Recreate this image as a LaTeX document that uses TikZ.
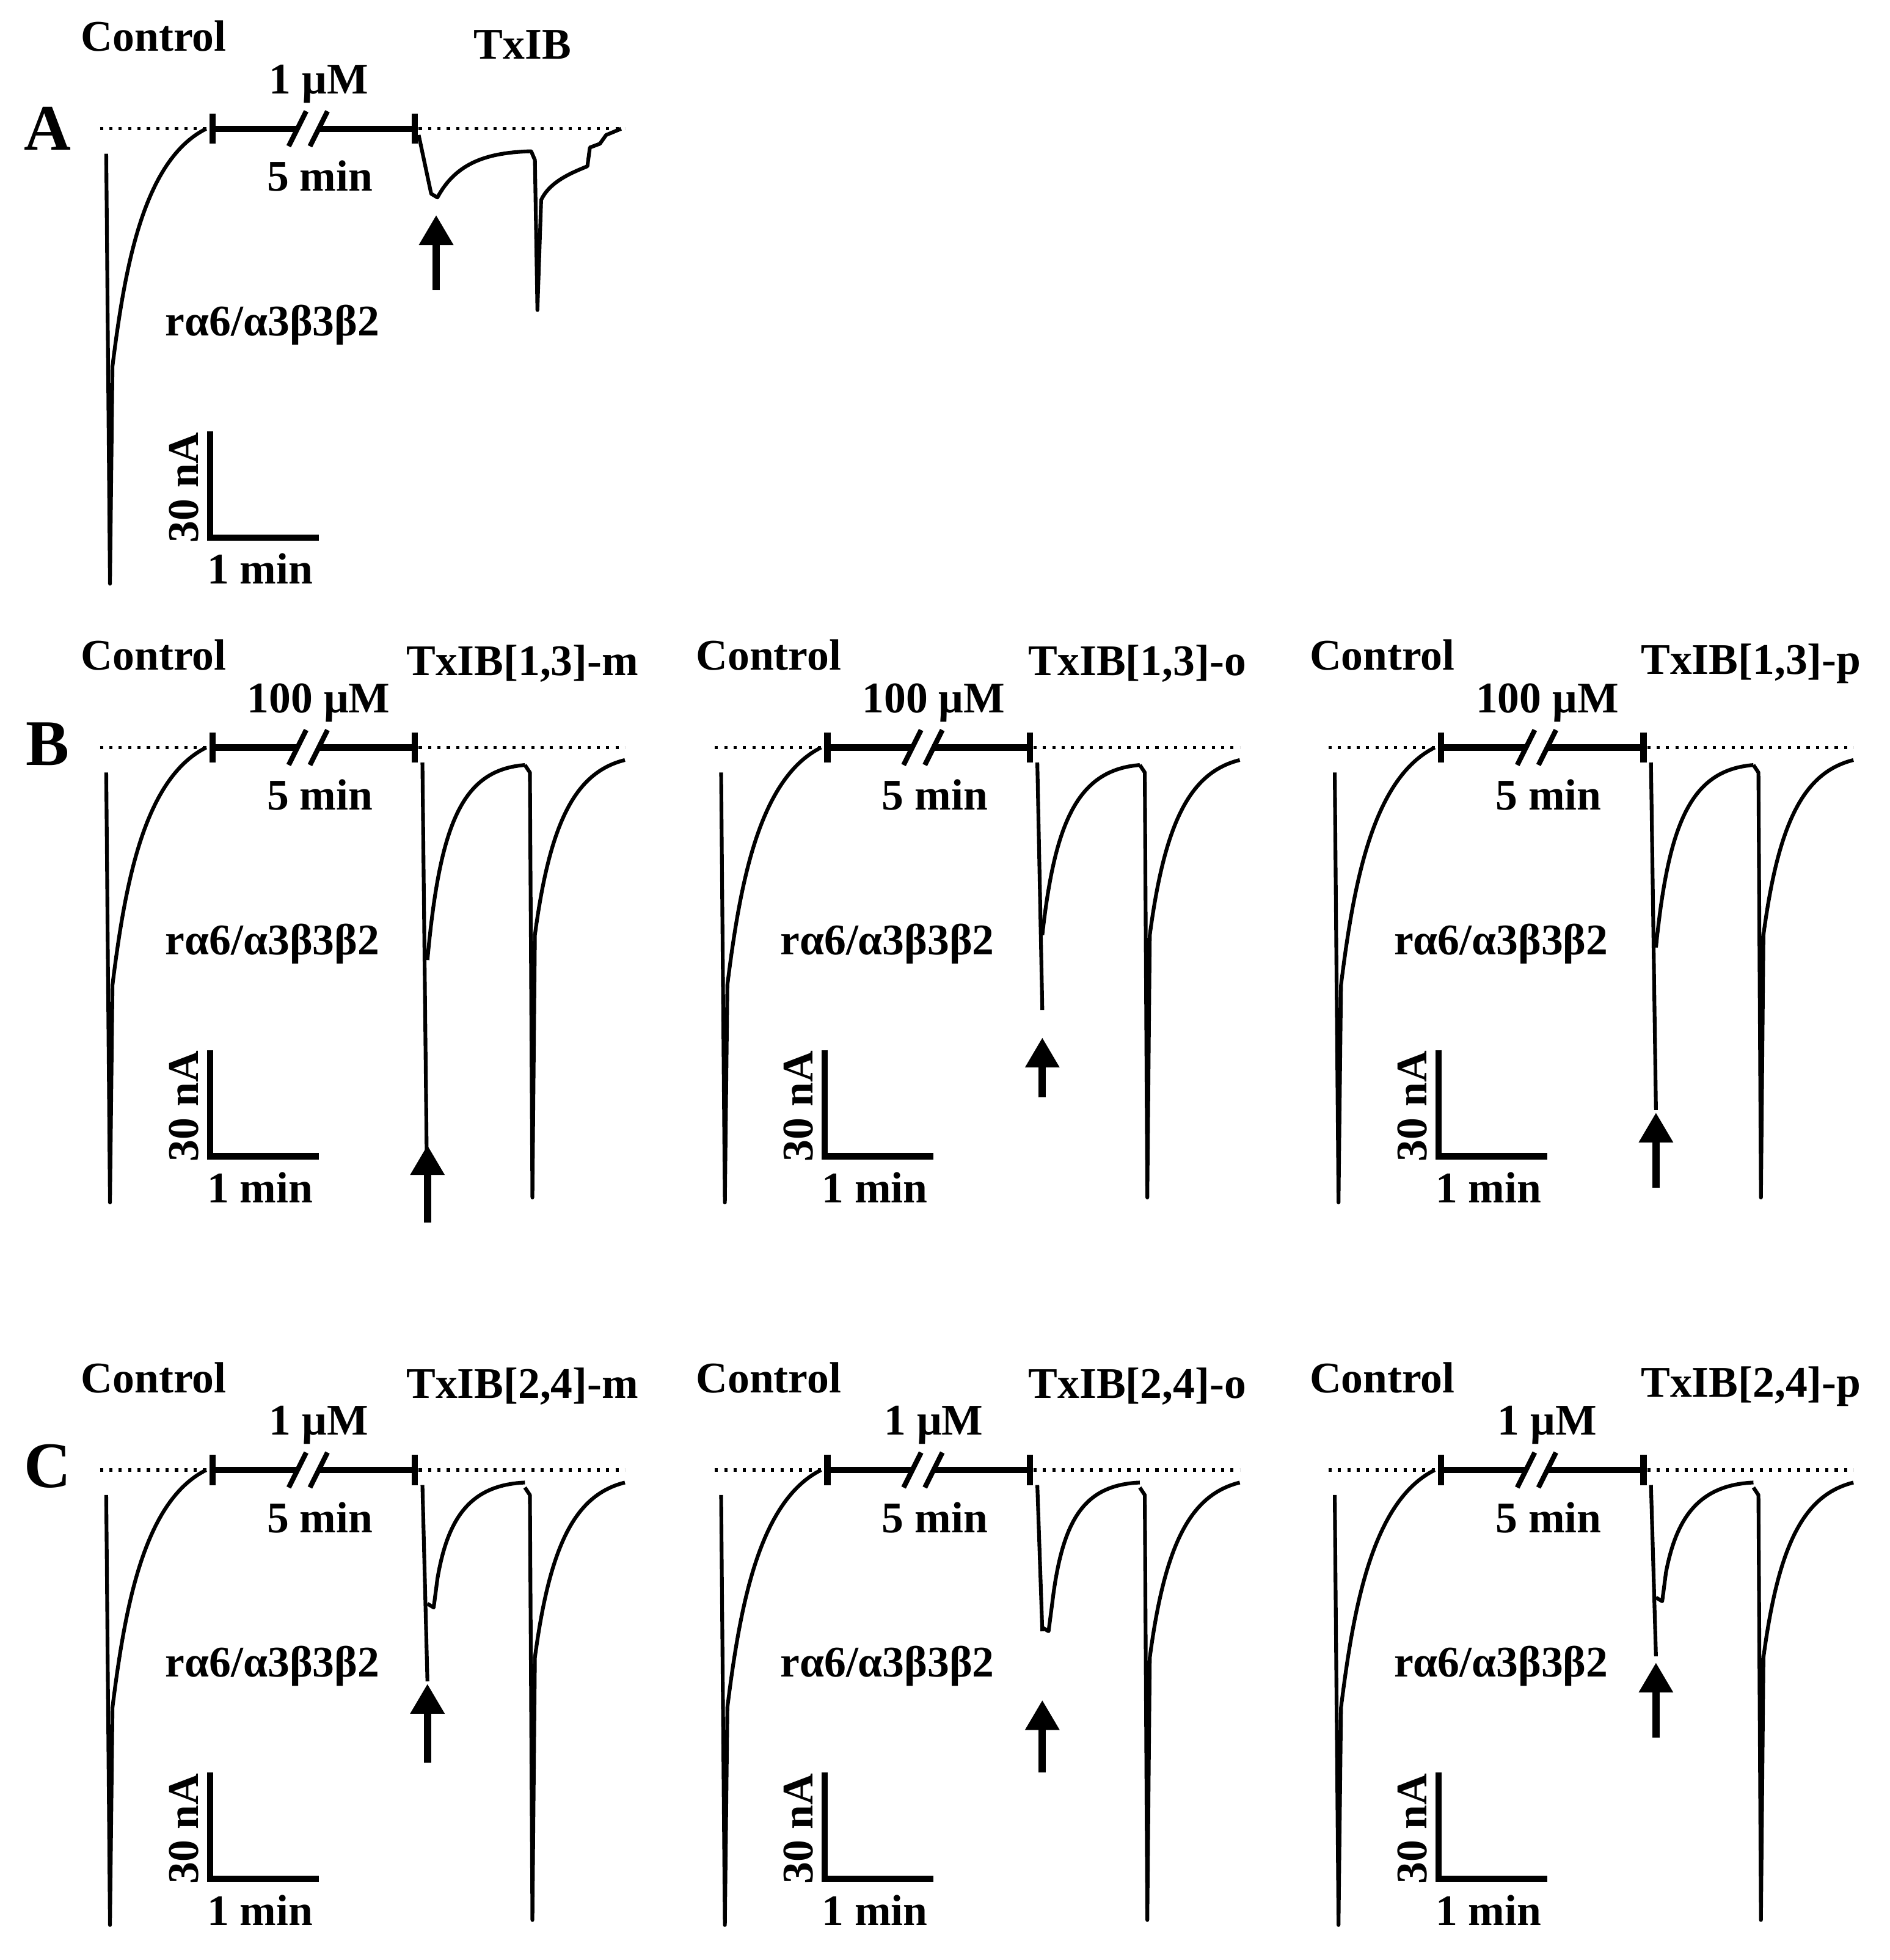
\documentclass[tikz,border=0pt]{standalone}
\usepackage{fontspec}
\setmainfont{Liberation Serif}
\usetikzlibrary{arrows.meta}
\tikzset{every picture/.style={line width=3pt}}
\tikzset{
  lbl/.style={font=\fontsize{35}{40}\selectfont\bfseries, inner sep=0pt},
  letter/.style={font=\fontsize{52}{58}\selectfont\bfseries, inner sep=0pt},
  base/.style={dash pattern=on 2.5pt off 5pt, line width=2.5pt},
  bar/.style={line width=5pt},
  trace/.style={line width=3pt, line join=round},
  uparrow/.style={line width=6pt, -{Triangle[length=24pt,width=26pt]}}
}

\begin{document}
\begin{tikzpicture}[x=1pt,y=1pt,yscale=-1,xscale=1]
\useasboundingbox (0,0) rectangle (1512,1568);

% row letters
\node[letter] (rowA) at (38,103) {A};
\node[letter] (rowB) at (38,595) {B};
\node[letter] (rowC) at (38,1173) {C};

% common parts of every panel
\foreach \px/\py/\conc/\ttl [count=\i] in {0/103/{1 μM}/{TxIB}, 0/598/{100 μM}/{TxIB[1,3]-m}, 492/598/{100 μM}/{TxIB[1,3]-o}, 983/598/{100 μM}/{TxIB[1,3]-p}, 0/1176/{1 μM}/{TxIB[2,4]-m}, 492/1176/{1 μM}/{TxIB[2,4]-o}, 983/1176/{1 μM}/{TxIB[2,4]-p}}{
\begin{scope}[shift={(\px,\py)}]
  % baselines
  \draw[base] (80,0) -- (165,0);
  \draw[base] (335,0) -- (500,0);
  % application bar with break
  \draw[bar] (170,0) -- (238,0) (254,0) -- (332,0);
  \draw[bar] (170,-12) -- (170,12) (332,-12) -- (332,12);
  \draw[line width=4pt] (231,14) -- (245,-14) (248,14) -- (262,-14);
  % control trace
  \draw[trace] (85,20) -- (88,364) -- (90,190) .. controls (100,110) and (115,25) .. (165,0);
  % scale bar
  \coordinate (sbt\i) at (168,242);
  \coordinate (sbc\i) at (168,327);
  \coordinate (sbr\i) at (255,327);
  \draw[bar] (sbt\i) -- (sbc\i) -- (sbr\i);
  \node[lbl, rotate=90] (na\i) at (147,287) {30 nA};
  \node[lbl] (mn\i) at (208,352) {1 min};
  % labels
  \node[lbl] (ctl\i) at (123,-74) {Control};
  \node[lbl] (cnc\i) at (255,-36) {\conc};
  \node[lbl] (tm\i) at (256,38) {5 min};
  \node[lbl] (ttl\i) at (418,-67) {\ttl};
  \node[lbl] (rec\i) at (218,157) {rα6/α3β3β2};
\end{scope}
}

% panel A: TxIB trace and arrow
\draw[trace] (335,108) -- (345,155) -- (350,158) .. controls (365,130) and (390,122) .. (425,121) -- (428,128) -- (430,248) -- (433,160) .. controls (440,145) and (458,138) .. (470,133) -- (472,118) -- (480,115) -- (485,108) -- (497,103);
\coordinate (abA) at (349,232);
\coordinate (atA) at (349,172);
\draw[uparrow] (abA) -- (atA);

% panels B and C: peptide traces and arrows
\foreach \px/\py/\dd/\rr/\nt/\ab/\at [count=\j] in {0/598/380/170/0/380/318, 492/598/210/150/0/280/232, 983/598/290/160/0/352/292, 0/1176/169/107/1/234/171, 492/1176/129/126/1/242/184, 983/1176/149/102/1/214/154}{
\begin{scope}[shift={(\px,\py)}]
  \draw[trace] (338,12) -- (342,\dd);
  \ifnum\nt=1
    \draw[trace] (342,\rr) -- (347,\rr+3) -- (350,\rr-20) .. controls (358,40) and (375,12) .. (420,10);
  \else
    \draw[trace] (342,\rr) .. controls (352,60) and (370,18) .. (420,14);
  \fi
  \draw[trace] (420,14) -- (424,20) -- (426,360) -- (428,150) .. controls (440,60) and (460,20) .. (500,10);
  \coordinate (ab\j) at (342,\ab);
  \coordinate (at\j) at (342,\at);
  \draw[uparrow] (ab\j) -- (at\j);
\end{scope}
}
\end{tikzpicture}
\end{document}
